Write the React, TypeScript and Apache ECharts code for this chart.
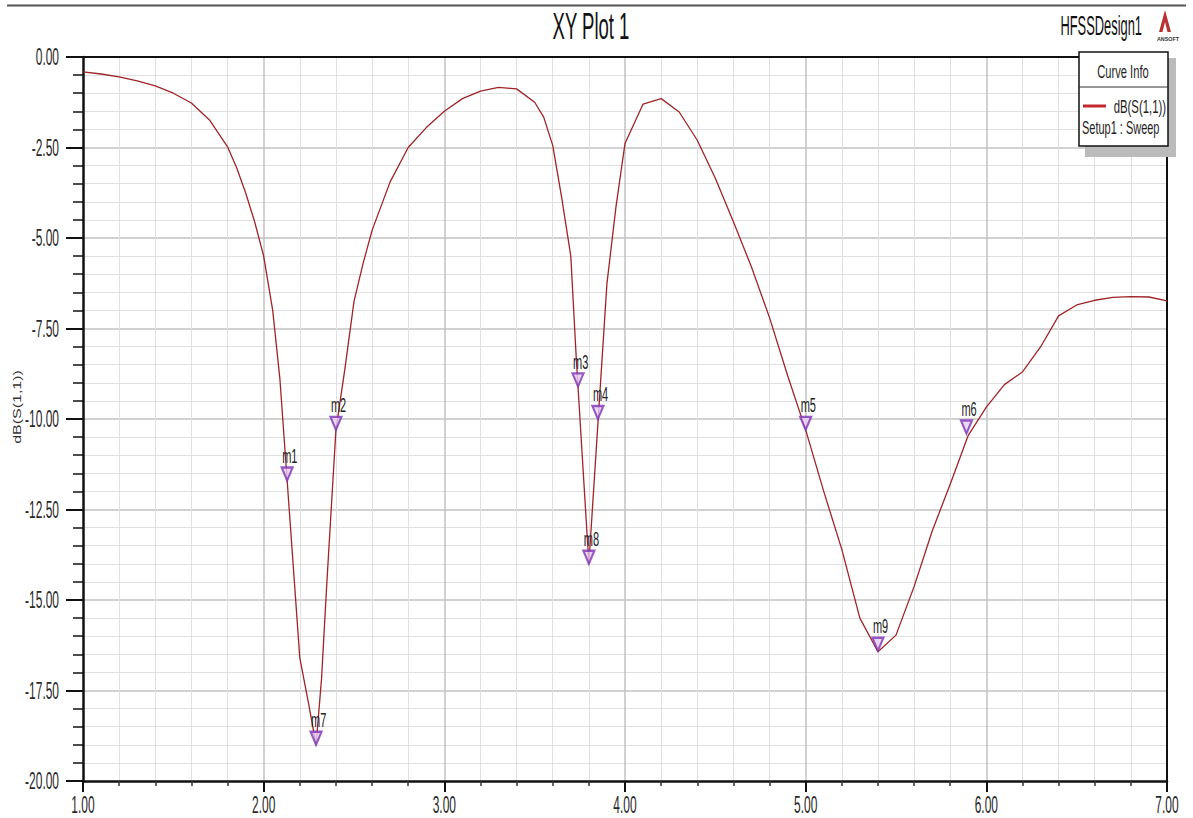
import React, { useEffect, useRef } from "react";
import * as echarts from "echarts";

// ---- data ----
const freqGHz = [
  1.0, 1.1, 1.2, 1.3, 1.4, 1.5, 1.6, 1.7, 1.8, 1.85, 1.9, 1.95, 2.0, 2.05, 2.09, 2.13, 2.2, 2.25, 2.29,
  2.32, 2.35, 2.4, 2.45, 2.5, 2.55, 2.6, 2.7, 2.8, 2.9, 3.0, 3.1, 3.2, 3.3, 3.4, 3.5, 3.55, 3.6, 3.65,
  3.7, 3.73, 3.8, 3.9, 3.95, 4.0, 4.1, 4.2, 4.3, 4.4, 4.5, 4.6, 4.7, 4.8, 4.9, 5.0, 5.1, 5.2, 5.3, 5.4,
  5.5, 5.6, 5.7, 5.8, 5.9, 6.0, 6.1, 6.2, 6.3, 6.4, 6.5, 6.6, 6.7, 6.8, 6.9, 7.0,
];
const s11dB = [
  -0.41, -0.47, -0.55, -0.66, -0.8, -1.0, -1.27, -1.74, -2.48, -3.05, -3.75, -4.55, -5.5, -7.0, -8.9,
  -11.7, -16.6, -17.9, -19.0, -17.2, -14.5, -10.3, -8.6, -6.75, -5.71, -4.79, -3.45, -2.5, -1.95, -1.5,
  -1.15, -0.94, -0.84, -0.88, -1.25, -1.66, -2.44, -3.9, -5.5, -8.3, -14.0, -6.26, -4.14, -2.39, -1.3,
  -1.15, -1.52, -2.3, -3.35, -4.55, -5.8, -7.2, -8.8, -10.3, -12.0, -13.6, -15.5, -16.43, -15.97, -14.63,
  -13.1, -11.8, -10.45, -9.67, -9.05, -8.7, -8.01, -7.15, -6.85, -6.72, -6.64, -6.62, -6.63, -6.74,
];
const markerNames = ["m1", "m2", "m3", "m4", "m5", "m6", "m7", "m8", "m9"];
const markerFreq = [2.13, 2.4, 3.74, 3.85, 5.0, 5.89, 2.29, 3.8, 5.4];
const markerDb = [-11.7, -10.3, -9.1, -10.0, -10.3, -10.4, -19.0, -14.0, -16.4];

const xTickValues = [1, 2, 3, 4, 5, 6, 7];
const xTickLabels = ["1.00", "2.00", "3.00", "4.00", "5.00", "6.00", "7.00"];
const yTickValues = [0, -2.5, -5, -7.5, -10, -12.5, -15, -17.5, -20];
const yTickLabels = ["0.00", "-2.50", "-5.00", "-7.50", "-10.00", "-12.50", "-15.00", "-17.50", "-20.00"];

const titleText = "XY Plot 1";
const designText = "HFSSDesign1";
const curveName = "dB(S(1,1))";
const setupName = "Setup1 : Sweep";
const legendTitle = "Curve Info";
const yAxisTitle = "dB(S(1,1))";

const FONT = "'Liberation Sans', Arial, sans-serif";

function txt(
  text: string,
  x: number,
  y: number,
  fontSize: number,
  scaleX: number,
  align: string,
  vAlign: string,
  extra: any = {}
) {
  return {
    type: "text",
    x,
    y,
    scaleX,
    scaleY: 1,
    silent: true,
    z: 100,
    ...extra,
    style: {
      text,
      fontSize,
      fontFamily: FONT,
      fill: "#1e1e1e",
      textAlign: align,
      textVerticalAlign: vAlign,
      ...(extra.style || {}),
    },
  };
}

export default function App() {
  const ref = useRef<HTMLDivElement>(null);

  useEffect(() => {
    document.body.style.margin = "0";
    const el = ref.current!;
    const chart = echarts.init(el, null, { renderer: "svg" });

    const option: any = {
      animation: false,
      backgroundColor: "#ffffff",
      grid: { left: 83, top: 57, width: 1084, height: 724, outerBoundsMode: "none" },
      xAxis: [
        {
          type: "value",
          min: 1,
          max: 7,
          interval: 1,
          position: "bottom",
          axisLine: { show: true, onZero: false, lineStyle: { color: "#111", width: 2.5 } },
          axisTick: { show: true, length: 11, lineStyle: { color: "#111", width: 2 } },
          minorTick: { show: true, splitNumber: 5, length: 5, lineStyle: { color: "#333", width: 1.5 } },
          axisLabel: { show: false },
          splitLine: {
            show: true,
            showMinLine: false,
            showMaxLine: false,
            lineStyle: { color: "#c2c2c2", width: 1.5 },
          },
          minorSplitLine: { show: true, lineStyle: { color: "#e0e0e0", width: 1 } },
        },
        {
          type: "value",
          min: 1,
          max: 7,
          interval: 1,
          position: "top",
          axisLine: { show: true, onZero: false, lineStyle: { color: "#111", width: 2 } },
          axisTick: { show: false },
          axisLabel: { show: false },
          splitLine: { show: false },
        },
      ],
      yAxis: [
        {
          type: "value",
          min: -20,
          max: 0,
          interval: 2.5,
          position: "left",
          axisLine: { show: true, onZero: false, lineStyle: { color: "#111", width: 2.5 } },
          axisTick: { show: true, length: 17, lineStyle: { color: "#111", width: 2 } },
          minorTick: { show: true, splitNumber: 5, length: 10, lineStyle: { color: "#111", width: 1.5 } },
          axisLabel: { show: false },
          splitLine: {
            show: true,
            showMinLine: false,
            showMaxLine: false,
            lineStyle: { color: "#c2c2c2", width: 1.5 },
          },
          minorSplitLine: { show: true, lineStyle: { color: "#e0e0e0", width: 1 } },
        },
        {
          type: "value",
          min: -20,
          max: 0,
          interval: 2.5,
          position: "right",
          axisLine: { show: true, onZero: false, lineStyle: { color: "#111", width: 2 } },
          axisTick: { show: false },
          axisLabel: { show: false },
          splitLine: { show: false },
        },
      ],
      series: [
        {
          name: curveName,
          type: "line",
          xAxisIndex: 0,
          yAxisIndex: 0,
          data: freqGHz.map((f, i) => [f, s11dB[i]]),
          showSymbol: false,
          symbol: "none",
          lineStyle: { color: "#9e2428", width: 1.3 },
          z: 3,
        },
        {
          name: "markers",
          type: "scatter",
          xAxisIndex: 0,
          yAxisIndex: 0,
          data: markerFreq.map((f, i) => [f, markerDb[i]]),
          symbol: "path://M0,0 L10,0 L5,12 Z",
          symbolSize: [11, 13],
          symbolOffset: [0, -6.5],
          itemStyle: { color: "#e6cdf5", borderColor: "#7e32b4", borderWidth: 2.2 },
          z: 5,
        },
      ],
    };
    chart.setOption(option);

    const toPx = (x: number, y: number) =>
      chart.convertToPixel({ seriesIndex: 0 }, [x, y]) as unknown as number[];

    const els: any[] = [];
    // top rule
    els.push({
      type: "line",
      silent: true,
      z: 100,
      shape: { x1: 7, y1: 5.5, x2: 1186, y2: 5.5 },
      style: { stroke: "#555", lineWidth: 2 },
    });
    // title
    els.push(txt(titleText, 591, 26, 37, 0.5, "center", "middle", { style: { fill: "#111" } }));
    els.push(txt(designText, 1142, 25, 28, 0.46, "right", "middle", { style: { fill: "#111" } }));
    // ansoft logo
    els.push({
      type: "polygon",
      silent: true,
      z: 100,
      shape: {
        points: [
          [1165, 10],
          [1159, 32],
          [1162.5, 32],
          [1165, 22],
          [1167.5, 32],
          [1171, 32],
        ],
      },
      style: { fill: "#b83232" },
    });
    els.push(
      txt("ANSOFT", 1168, 39, 6, 0.9, "center", "middle", { style: { fontWeight: "bold", fill: "#333" } })
    );

    // y tick labels
    yTickValues.forEach((v, i) => {
      const p = toPx(1, v);
      els.push(txt(yTickLabels[i], p[0] - 24, p[1], 23, 0.52, "right", "middle", { style: { fill: "#2a2a2a" } }));
    });
    // x tick labels
    xTickValues.forEach((v, i) => {
      const p = toPx(v, -20);
      els.push(txt(xTickLabels[i], p[0], p[1] + 24, 23, 0.52, "center", "middle", { style: { fill: "#2a2a2a" } }));
    });
    // y axis title (rotated)
    {
      const a = toPx(1, -10);
      els.push(
        txt(yAxisTitle, a[0] - 66, a[1] - 12, 16, 1, "center", "middle", {
          rotation: Math.PI / 2,
          scaleX: 1,
          scaleY: 0.7,
          style: { fill: "#333" },
        })
      );
    }
    // marker labels
    markerNames.forEach((n, i) => {
      const p = toPx(markerFreq[i], markerDb[i]);
      els.push(txt(n, p[0] - 5, p[1] - 25, 20, 0.55, "left", "middle", { style: { fill: "#222" } }));
    });

    // legend box
    els.push({
      type: "rect",
      silent: true,
      z: 100,
      shape: { x: 1085, y: 58, width: 91, height: 99 },
      style: { fill: "#bbbbbb" },
    });
    els.push({
      type: "rect",
      silent: true,
      z: 101,
      shape: { x: 1079, y: 52, width: 89, height: 94 },
      style: { fill: "#ffffff", stroke: "#111", lineWidth: 1.5 },
    });
    els.push({
      type: "line",
      silent: true,
      z: 102,
      shape: { x1: 1079, y1: 87, x2: 1168, y2: 87 },
      style: { stroke: "#333", lineWidth: 1 },
    });
    els.push(txt(legendTitle, 1123, 71, 18, 0.62, "center", "middle", { z: 103 }));
    els.push({
      type: "line",
      silent: true,
      z: 102,
      shape: { x1: 1083, y1: 106, x2: 1106, y2: 106 },
      style: { stroke: "#c0282d", lineWidth: 3 },
    });
    els.push(txt(curveName, 1166, 106, 18, 0.63, "right", "middle", { z: 103 }));
    els.push(txt(setupName, 1082, 128, 18, 0.61, "left", "middle", { z: 103 }));

    chart.setOption({ graphic: { elements: els } });

    return () => {
      chart.dispose();
    };
  }, []);

  return (
    <div
      ref={ref}
      style={{ position: "absolute", left: 0, top: 0, width: 1193, height: 818, background: "#fff" }}
    />
  );
}
